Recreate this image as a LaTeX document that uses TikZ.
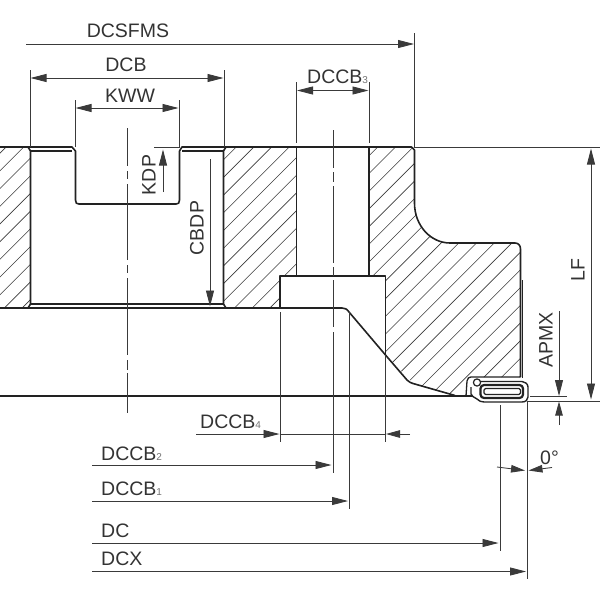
\documentclass[tikz,border=0pt]{standalone}
\usepackage{fontspec}
\setmainfont{Liberation Sans}
\usetikzlibrary{arrows.meta}
\definecolor{ink}{HTML}{222222}
\definecolor{thinink}{HTML}{3A3A3A}
\definecolor{textink}{HTML}{333333}
\newcommand{\subdigit}[1]{{\fontsize{10}{10}\selectfont\textcolor{black!55}{#1}}}
\tikzset{
  outline/.style={draw=ink,line width=1.6pt,line join=round},
  fineline/.style={draw=thinink,line width=0.85pt},
  hatchline/.style={draw=thinink,line width=0.6pt},
  dimline/.style={draw=thinink,line width=0.85pt,arrows={-Triangle[length=16pt,width=8pt]}},
  dimboth/.style={draw=thinink,line width=0.85pt,arrows={Triangle[length=16pt,width=8pt]-Triangle[length=16pt,width=8pt]}},
  smalldim/.style={draw=thinink,line width=0.85pt,arrows={-Triangle[length=14pt,width=7.5pt]}},
  lbl/.style={inner sep=0pt,text=textink,font=\fontsize{19.5}{19.5}\selectfont},
  lblr/.style={lbl,rotate=90}
}
\begin{document}
\begin{tikzpicture}[x=1pt,y=-1pt]
\useasboundingbox (0,0) rectangle (600,600);
% hatching
\begin{scope}
\clip (0,147) rectangle (30.5,308)
      (223.5,147) -- (296.5,147) -- (296.5,276) -- (280,276) -- (280,308) -- (223.5,308) -- cycle
      (369,147) -- (414.5,147) -- (414.5,203) .. controls (414.5,226) and (431,243) .. (450,243)
        -- (520.5,243) -- (520.5,377) -- (468,377) -- (466,395.5) -- (455,395.5) -- (413,383) -- (385.5,355) -- (385.5,276) -- (369,276) -- cycle;
\foreach \k in {0,...,46} {
  \pgfmathsetmacro{\c}{100+17.7*\k}
  \draw[hatchline] (\c-420,420) -- (\c,0);
}
\end{scope}
% outline coordinates
\coordinate (wallLT) at (30.5,151);
\coordinate (wallLB) at (30.5,304);
\coordinate (wallRT) at (223.5,151);
\coordinate (wallRB) at (223.5,304);
% upper edges
\draw[outline] (0,147) -- (28,147) -- (30.5,151) -- (wallLB) -- (28,308);
\draw[outline] (28,147) -- (72,147) -- (75.5,151) -- (75.5,200) .. controls (75.5,203) and (76.5,204) .. (79,204)
   -- (176,204) .. controls (178.5,204) and (179.5,203) .. (179.5,200) -- (179.5,151) -- (182,147) -- (226,147) -- (223.5,151) -- (wallRB) -- (226,308);
\draw[outline,line width=1.2pt] (wallLT) -- (72,151);
\draw[outline,line width=1.2pt] (182,151) -- (wallRT);
\draw[outline,line width=1.2pt] (wallLB) -- (wallRB);
\draw[outline] (226,147) -- (296.5,147) -- (369,147) -- (411.5,147) -- (414.5,150) -- (414.5,203)
   .. controls (414.5,226) and (431,243) .. (450,243) -- (515,243) .. controls (518.5,243) and (520.5,245.5) .. (520.5,249) -- (520.5,377);
\draw[outline] (296.5,147) -- (296.5,276);
\draw[outline] (369,147) -- (369,276);
\draw[outline] (280,308) -- (280,276) -- (385.5,276) -- (385.5,355);
\draw[outline] (0,308) -- (342,308) .. controls (345,308) and (347,309) .. (349,312) -- (385.5,355) -- (407,380) .. controls (409,382) and (411,383) .. (413,383.5) -- (455,395.5);
\draw[outline,line width=1.9pt] (522.5,280) -- (522.5,378);
\draw[outline,line width=1.3pt] (0,396) -- (478,396);
% insert
\draw[outline,line width=1.3pt] (466,396) -- (467,381) .. controls (467.5,378) and (469,377) .. (471,377) -- (520.5,377);
\draw[outline,line width=1.3pt] (474,381.5) -- (520,381.5);
\draw[outline,line width=1.4pt,fill=white] (471,387) -- (471,394) .. controls (471,396) and (474,397) .. (477,399) .. controls (479,401) and (481,402) .. (484,402)
   -- (522,402) .. controls (525.5,402) and (528,400) .. (528,397) -- (528,387) .. controls (528,384) and (525,381.5) .. (522,381.5) -- (480,381.5);
\draw[outline,line width=1.2pt,fill=white] (477,382.5) circle (3.6);
\draw[outline,line width=2.2pt,rounded corners=3.5pt] (480.5,385) rectangle (523,398);
\draw[outline,line width=1.1pt,rounded corners=1.5pt] (484,388.5) rectangle (520.5,394.5);
% centre lines
\draw[fineline] (127,128) -- (127,166) (127,171) -- (127,179) (127,184) -- (127,260) (127,265) -- (127,273)
   (127,278) -- (127,355) (127,360) -- (127,370) (127,373) -- (127,413);
\draw[fineline] (333,130) -- (333,168) (333,172) -- (333,182) (333,186) -- (333,263) (333,267) -- (333,276)
   (333,280) -- (333,327) (333,332) -- (333,473);
% extension lines
\coordinate (sfmsEx) at (414.5,33);
\coordinate (sfmsBase) at (414.5,147);
\coordinate (lfEnd) at (600,147);
\coordinate (lfEndB) at (600,401);
\coordinate (apmxA) at (530,396.5);
\coordinate (apmxB) at (567,396.5);
\coordinate (apmxC) at (527,401);
\draw[fineline] (sfmsEx) -- (sfmsBase) -- (lfEnd);
\draw[fineline] (apmxA) -- (apmxB);
\draw[fineline] (apmxC) -- (lfEndB);
\draw[fineline] (30,70) -- (30,147);
\draw[fineline] (224,70) -- (224,147);
\draw[fineline] (75,100) -- (75,147);
\draw[fineline] (179,100) -- (179,147);
\draw[fineline] (296.5,82) -- (296.5,143);
\draw[fineline] (369,82) -- (369,143);
\draw[fineline] (154,147) -- (180,147);
\draw[fineline] (280,312) -- (280,442);
\draw[fineline] (385.5,355) -- (385.5,442);
\draw[fineline] (349.7,312) -- (349.7,509);
\draw[fineline] (500,405) -- (500,551);
\draw[fineline] (527,401) -- (527,579);
% dimension ends
\coordinate (sfmsA) at (26,44);   \coordinate (sfmsB) at (414,44);
\coordinate (dcbA) at (30.5,78);  \coordinate (dcbB) at (223.5,78);
\coordinate (kwwA) at (75.5,108); \coordinate (kwwB) at (178.5,108);
\coordinate (c3A) at (297,90.5);  \coordinate (c3B) at (368.5,90.5);
\coordinate (kdpA) at (163,192);  \coordinate (kdpB) at (163,149.5);
\coordinate (cbdpA) at (210,159); \coordinate (cbdpB) at (210,306.5);
\coordinate (lfA) at (591,148.5); \coordinate (lfB) at (591,399.5);
\coordinate (apA) at (559,311);   \coordinate (apB) at (559,396);
\coordinate (apC) at (559,425);   \coordinate (apD) at (559,401.5);
\coordinate (c4A) at (196,434);   \coordinate (c4B) at (279.5,434);
\coordinate (c4C) at (410,434);   \coordinate (c4D) at (386,434);
\coordinate (c2A) at (92,465);    \coordinate (c2B) at (331.5,465);
\coordinate (c1A) at (92,501);    \coordinate (c1B) at (348,501);
\coordinate (dcA) at (92,543);    \coordinate (dcB) at (498.5,543);
\coordinate (dxA) at (92,571.5);  \coordinate (dxB) at (526,571.5);
\coordinate (zeA) at (497,467);   \coordinate (zeB) at (525,470.5);
\coordinate (zeC) at (552,467.5); \coordinate (zeD) at (528.5,470.5);
\draw[dimline] (sfmsA) -- (sfmsB);
\draw[dimboth] (dcbA) -- (dcbB);
\draw[dimboth] (kwwA) -- (kwwB);
\draw[dimboth] (c3A) -- (c3B);
\draw[dimline] (kdpA) -- (kdpB);
\draw[dimline] (cbdpA) -- (cbdpB);
\draw[dimboth] (lfA) -- (lfB);
\draw[dimline] (apA) -- (apB);
\draw[smalldim] (apC) -- (apD);
\draw[dimline] (c4A) -- (c4B);
\draw[smalldim] (c4C) -- (c4D);
\draw[fineline] (c4B) -- (c4D);
\draw[dimline] (c2A) -- (c2B);
\draw[dimline] (c1A) -- (c1B);
\draw[dimline] (dcA) -- (dcB);
\draw[dimline] (dxA) -- (dxB);
\draw[smalldim] (zeA) -- (zeB);
\draw[smalldim] (zeC) -- (zeD);
% labels
\node[lbl] (tSfms) at (128,31) {DCSFMS};
\node[lbl] (tDcb) at (126,65) {DCB};
\node[lbl] (tKww) at (130,96) {KWW};
\node[lbl,anchor=base west] (tC3) at (307,83) {DCCB\subdigit{3}};
\node[lblr] (tKdp) at (149,175) {KDP};
\node[lblr] (tCbdp) at (197,228) {CBDP};
\node[lblr] (tLf) at (578,270) {LF};
\node[lblr] (tApmx) at (546,340) {APMX};
\node[lbl,anchor=base west] (tC4) at (200,428) {DCCB\subdigit{4}};
\node[lbl,anchor=base west] (tC2) at (101,460) {DCCB\subdigit{2}};
\node[lbl,anchor=base west] (tC1) at (101,495) {DCCB\subdigit{1}};
\node[lbl,anchor=base west] (tDc) at (101,537) {DC};
\node[lbl,anchor=base west] (tDx) at (101,565) {DCX};
\node[lbl,anchor=base west] (tZe) at (540,464) {0°};
\end{tikzpicture}
\end{document}
